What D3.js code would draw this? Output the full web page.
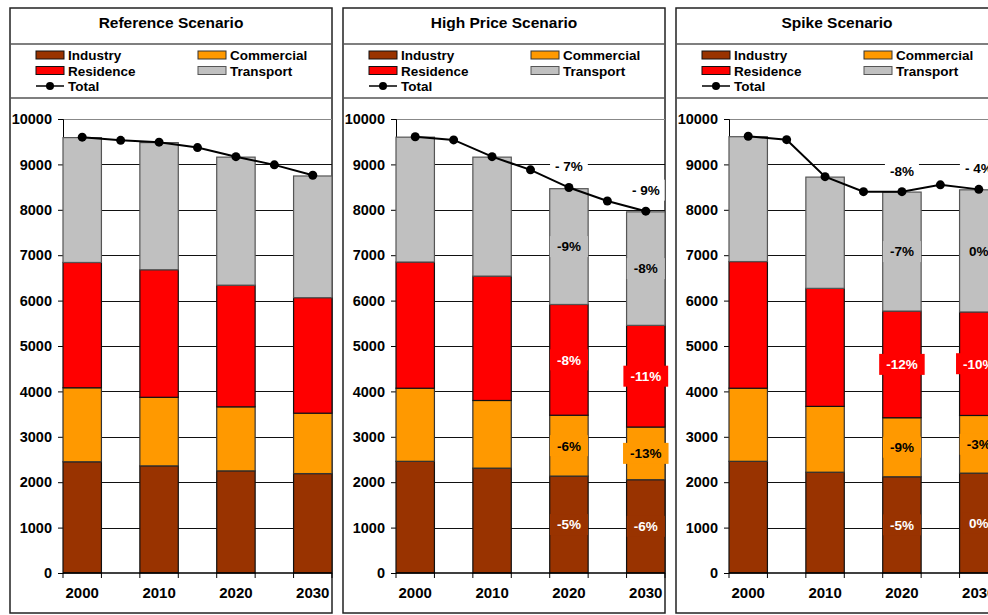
<!DOCTYPE html>
<html>
<head>
<meta charset="utf-8">
<script src="https://cdnjs.cloudflare.com/ajax/libs/d3/7.8.5/d3.min.js"></script>
<style>
  body { margin: 0; background: #fff; }
  text { font-family: "Liberation Sans", Arial, sans-serif; font-weight: bold; }
</style>
</head>
<body>
<div id="chart"></div>
<script>
// Categories: every 5 years for the total line, bars only every 10 years
var years = ["2000", "2005", "2010", "2015", "2020", "2025", "2030"];
var barYears = ["2000", "2010", "2020", "2030"];
var seriesNames = ["Industry", "Commercial", "Residence", "Transport"];
var yTicks = [0, 1000, 2000, 3000, 4000, 5000, 6000, 7000, 8000, 9000, 10000];

// Reference scenario
var refIndustry = [2450, 2360, 2250, 2190];
var refCommercial = [1630, 1510, 1410, 1330];
var refResidence = [2760, 2810, 2680, 2545];
var refTransport = [2750, 2800, 2820, 2680];
var refTotal = [9600, 9530, 9490, 9370, 9170, 8990, 8760];

// High price scenario
var highIndustry = [2460, 2310, 2135, 2055];
var highCommercial = [1610, 1490, 1340, 1160];
var highResidence = [2780, 2740, 2440, 2240];
var highTransport = [2750, 2620, 2550, 2500];
var highTotal = [9610, 9540, 9170, 8880, 8490, 8195, 7970];
var highSegLabels = [null, null, ["-5%", "-6%", "-8%", "-9%"], ["-6%", "-13%", "-11%", "-8%"]];
var highTotalLabels = [null, null, "- 7%", "- 9%"];

// Spike scenario
var spikeIndustry = [2460, 2220, 2120, 2200];
var spikeCommercial = [1610, 1450, 1300, 1270];
var spikeResidence = [2790, 2600, 2350, 2280];
var spikeTransport = [2750, 2450, 2620, 2690];
var spikeTotal = [9620, 9545, 8730, 8400, 8400, 8550, 8450];
var spikeSegLabels = [null, null, ["-5%", "-9%", "-12%", "-7%"], ["0%", "-3%", "-10%", "0%"]];
var spikeTotalLabels = [null, null, "-8%", "- 4%"];

var colors = {Industry: "#993300", Commercial: "#FF9900", Residence: "#FF0000", Transport: "#C0C0C0"};
var outline = {Industry: "#111", Commercial: "#333", Residence: "#111", Transport: "#555"};
var labelColor = {Industry: "#fff", Commercial: "#000", Residence: "#fff", Transport: "#000"};

var svgWidth = 988;
var svgHeight = 615;
var panelWidth = 322;

var svg = d3.select("#chart")
    .append("svg")
    .attr("width", svgWidth)
    .attr("height", svgHeight);

var panels = [
    {x: 10, title: "Reference Scenario", ind: refIndustry, com: refCommercial, res: refResidence, tra: refTransport, total: refTotal, segLabels: null, totalLabels: null},
    {x: 343, title: "High Price Scenario", ind: highIndustry, com: highCommercial, res: highResidence, tra: highTransport, total: highTotal, segLabels: highSegLabels, totalLabels: highTotalLabels},
    {x: 676, title: "Spike Scenario", ind: spikeIndustry, com: spikeCommercial, res: spikeResidence, tra: spikeTransport, total: spikeTotal, segLabels: spikeSegLabels, totalLabels: spikeTotalLabels}
];

panels.forEach(drawPanel);

function labelWithBox(g, cx, cy, txt, boxFill, textFill, padX) {
    var box = g.append("rect").attr("fill", boxFill);
    var t = g.append("text")
        .attr("x", cx)
        .attr("y", cy)
        .attr("dy", "0.36em")
        .attr("text-anchor", "middle")
        .attr("font-size", "13.5px")
        .attr("fill", textFill)
        .text(txt);
    var w = t.node().getComputedTextLength();
    box.attr("x", cx - w / 2 - padX)
        .attr("y", cy - 10.5)
        .attr("width", w + padX * 2)
        .attr("height", 21);
}

function drawPanel(p) {
    var left = p.x;
    var right = p.x + panelWidth;
    var plotLeft = left + 53;
    var g = svg.append("g");

    // frame, title and legend boxes
    g.append("rect")
        .attr("x", left).attr("y", 8)
        .attr("width", panelWidth).attr("height", 605)
        .attr("fill", "none").attr("stroke", "#222").attr("stroke-width", 1.5);
    [44, 98].forEach(function(yy) {
        g.append("line")
            .attr("x1", left).attr("x2", right)
            .attr("y1", yy).attr("y2", yy)
            .attr("stroke", "#555").attr("stroke-width", 1.5);
    });
    g.append("text")
        .attr("x", left + panelWidth / 2)
        .attr("y", 28)
        .attr("text-anchor", "middle")
        .attr("font-size", "15.5px")
        .text(p.title);

    // legend
    var legendItems = [
        {name: "Industry", col: 0, row: 0},
        {name: "Commercial", col: 1, row: 0},
        {name: "Residence", col: 0, row: 1},
        {name: "Transport", col: 1, row: 1}
    ];
    var rowY = [55, 70.5, 86];
    var colX = [left + 26, left + 188];
    legendItems.forEach(function(it) {
        g.append("rect")
            .attr("x", colX[it.col]).attr("y", rowY[it.row] - 4)
            .attr("width", 28).attr("height", 8)
            .attr("fill", colors[it.name])
            .attr("stroke", outline[it.name]).attr("stroke-width", 1);
        g.append("text")
            .attr("x", colX[it.col] + 32)
            .attr("y", rowY[it.row] + 5)
            .attr("font-size", "13.5px")
            .text(it.name);
    });
    g.append("line")
        .attr("x1", colX[0]).attr("x2", colX[0] + 28)
        .attr("y1", rowY[2]).attr("y2", rowY[2])
        .attr("stroke", "#000").attr("stroke-width", 1.5);
    g.append("circle")
        .attr("cx", colX[0] + 14).attr("cy", rowY[2]).attr("r", 4)
        .attr("fill", "#000");
    g.append("text")
        .attr("x", colX[0] + 32)
        .attr("y", rowY[2] + 5)
        .attr("font-size", "13.5px")
        .text("Total");

    // scales
    var x = d3.scaleBand().domain(years).range([plotLeft, right]).padding(0);
    var y = d3.scaleLinear().domain([0, 10000]).range([573, 119]);

    // gridlines
    g.append("g")
        .selectAll("line")
        .data(yTicks.filter(d => d > 0))
        .enter()
        .append("line")
        .attr("x1", plotLeft).attr("x2", right)
        .attr("y1", d => Math.round(y(d)) + 0.5)
        .attr("y2", d => Math.round(y(d)) + 0.5)
        .attr("stroke", d => d === 10000 ? "#888" : "#111")
        .attr("stroke-width", 1);

    // y axis
    var yAxis = g.append("g")
        .attr("transform", `translate(${plotLeft},0)`)
        .call(d3.axisLeft(y).tickValues(yTicks).tickSize(5).tickPadding(6).tickFormat(d3.format("d")));
    yAxis.select(".domain").attr("stroke", "#000");
    yAxis.selectAll("text").attr("font-size", "14.5px").attr("fill", "#000")
        .attr("font-family", "Liberation Sans, Arial, sans-serif").attr("font-weight", "bold");

    // stacked bars
    var rows = barYears.map(function(yr, i) {
        return {year: yr, Industry: p.ind[i], Commercial: p.com[i], Residence: p.res[i], Transport: p.tra[i]};
    });
    var stacked = d3.stack().keys(seriesNames)(rows);

    stacked.forEach(function(layer) {
        g.append("g")
            .selectAll("rect")
            .data(layer)
            .enter()
            .append("rect")
            .attr("x", d => x(d.data.year))
            .attr("width", x.bandwidth())
            .attr("y", d => y(d[1]))
            .attr("height", d => y(d[0]) - y(d[1]))
            .attr("fill", colors[layer.key])
            .attr("stroke", outline[layer.key])
            .attr("stroke-width", 1.2);
    });

    // x axis
    g.append("line")
        .attr("x1", plotLeft).attr("x2", right)
        .attr("y1", y(0)).attr("y2", y(0))
        .attr("stroke", "#000").attr("stroke-width", 1.5);
    var tickPos = years.map(d => x(d)).concat([right]);
    g.append("g")
        .selectAll("line")
        .data(tickPos)
        .enter()
        .append("line")
        .attr("x1", d => d).attr("x2", d => d)
        .attr("y1", y(0)).attr("y2", y(0) + 5)
        .attr("stroke", "#000").attr("stroke-width", 1);
    g.append("g")
        .selectAll("text")
        .data(barYears)
        .enter()
        .append("text")
        .attr("x", d => x(d) + x.bandwidth() / 2)
        .attr("y", 598)
        .attr("text-anchor", "middle")
        .attr("font-size", "15px")
        .text(d => d);

    // total line
    var line = d3.line()
        .x((d, i) => x(years[i]) + x.bandwidth() / 2)
        .y(d => y(d));
    g.append("path")
        .datum(p.total)
        .attr("d", line)
        .attr("fill", "none")
        .attr("stroke", "#000")
        .attr("stroke-width", 2);
    g.append("g")
        .selectAll("circle")
        .data(p.total)
        .enter()
        .append("circle")
        .attr("cx", (d, i) => x(years[i]) + x.bandwidth() / 2)
        .attr("cy", d => y(d))
        .attr("r", 4.5)
        .attr("fill", "#000");

    // percent change labels
    if (p.segLabels) {
        stacked.forEach(function(layer, k) {
            layer.forEach(function(d, i) {
                var lab = p.segLabels[i];
                if (!lab) return;
                var cx = x(d.data.year) + x.bandwidth() / 2;
                var cy = y((d[0] + d[1]) / 2);
                labelWithBox(g, cx, cy, lab[k], colors[layer.key], labelColor[layer.key], 7);
            });
        });
        barYears.forEach(function(yr, i) {
            var lab = p.totalLabels[i];
            if (!lab) return;
            var ti = years.indexOf(yr);
            labelWithBox(g, x(yr) + x.bandwidth() / 2, y(p.total[ti]) - 21, lab, "#fff", "#000", 5);
        });
    }
}
</script>
</body>
</html>
